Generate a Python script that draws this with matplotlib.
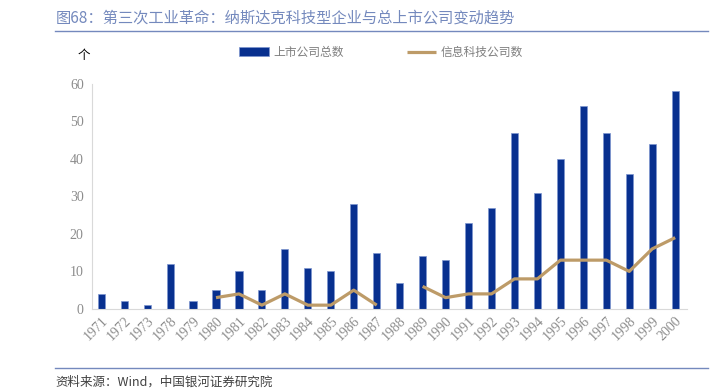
import matplotlib
import matplotlib.pyplot as plt
import numpy as np

matplotlib.use('Agg')

years = ['1971', '1972', '1973', '1978', '1979', '1980', '1981', '1982', '1983',
         '1984', '1985', '1986', '1987', '1988', '1989', '1990', '1991', '1992',
         '1993', '1994', '1995', '1996', '1997', '1998', '1999', '2000']
total_listed = [4, 2, 1, 12, 2, 5, 10, 5, 16, 11, 10, 28, 15, 7, 14, 13, 23, 27,
                47, 31, 40, 54, 47, 36, 44, 58]
it_listed = [None, None, None, None, None, 3, 4, 1, 4, 1, 1, 5, 1, None, 6, 3, 4, 4,
             8, 8, 13, 13, 13, 10, 16, 19]

CJK = ['Noto Sans CJK SC', 'DejaVu Sans']
SERIF = ['Liberation Serif', 'DejaVu Serif']

fig = plt.figure(figsize=(7.19, 3.92), dpi=100)
ax = fig.add_axes([0.128, 0.212, 0.827, 0.574])

x = np.arange(len(years))
bars = ax.bar(x, total_listed, width=0.31, color='#08308f', edgecolor='#7d95d0',
              linewidth=0.5, label='上市公司总数', zorder=2)
it_vals = np.array([np.nan if v is None else v for v in it_listed], dtype=float)
line, = ax.plot(x, it_vals, color='#bd9b68', linewidth=2.3, label='信息科技公司数',
                solid_capstyle='butt', zorder=3)

ax.set_xlim(-0.4, len(years) - 0.5)
ax.set_ylim(0, 60)
ax.set_yticks(range(0, 61, 10))
ax.set_xticks(x)
ax.set_xticklabels(years, rotation=45, ha='right', rotation_mode='anchor',
                   family=SERIF, fontsize=10, color='#8c8c8c')
for lab in ax.get_yticklabels():
    lab.set_family(SERIF)
    lab.set_fontsize(10)
    lab.set_color('#8c8c8c')
ax.tick_params(length=0, pad=6)
ax.tick_params(axis='x', pad=4)
for side in ['top', 'right']:
    ax.spines[side].set_visible(False)
ax.spines['left'].set_color('#d9d9d9')
ax.spines['bottom'].set_color('#d9d9d9')

ax.legend(handles=[bars, line], loc='center left', bbox_to_anchor=(0.318, 0.867),
          bbox_transform=fig.transFigure, ncol=2, frameon=False,
          prop={'family': CJK, 'size': 8.5}, labelcolor='#7f7f7f',
          handlelength=2.5, handletextpad=0.4, columnspacing=5.3)

fig.text(0.108, 0.858, '个', family=CJK, fontsize=9, color='#000000', va='center')

fig.text(0.077, 0.954, '图68：第三次工业革命：纳斯达克科技型企业与总上市公司变动趋势',
         family=CJK, fontsize=11, color='#7489bd', va='center')
fig.add_artist(plt.Line2D([0.077, 0.985], [0.922, 0.922], color='#7489bd',
                          linewidth=1, transform=fig.transFigure))
fig.add_artist(plt.Line2D([0.077, 0.985], [0.061, 0.061], color='#7489bd',
                          linewidth=1, transform=fig.transFigure))
fig.text(0.077, 0.026, '资料来源：Wind，中国银河证券研究院', family=CJK,
         fontsize=9, color='#404040', va='center')

fig.savefig('out.png', dpi=100)
plt.close(fig)
